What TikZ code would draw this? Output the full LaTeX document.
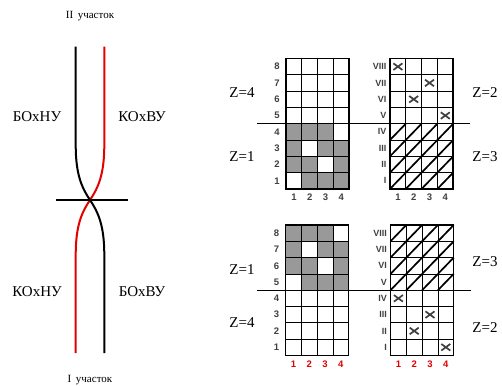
\documentclass[tikz,border=0pt]{standalone}
\usepackage{fontspec}
\setmainfont{Liberation Serif}
\setsansfont{Liberation Sans}
\begin{document}
\begin{tikzpicture}[x=1pt,y=-1pt,
  wire/.style={line width=2pt},
  redwire/.style={line width=2pt,draw=red!90!black},
  divider/.style={line width=1.4pt},
  lbl/.style={font=\fontsize{15}{17}\selectfont,inner sep=0pt},
  sect/.style={font=\fontsize{11}{13}\selectfont,inner sep=0pt},
  zlbl/.style={font=\fontsize{15}{17}\selectfont,inner sep=0pt},
  gridline/.style={line width=0.8pt},
  border/.style={line width=1.5pt},
  diag/.style={line width=1.7pt},
  xline/.style={line width=1.7pt,draw=black!75},
  rownum/.style={font=\sffamily\bfseries\fontsize{9.5}{10}\selectfont,text=black!75,inner sep=0pt},
  rowrom/.style={font=\sffamily\bfseries\fontsize{9}{10}\selectfont,text=black!75,inner sep=0pt,anchor=east},
  colnum/.style={font=\sffamily\bfseries\fontsize{9.5}{10}\selectfont,text=black!75,inner sep=0pt},
  colred/.style={font=\sffamily\bfseries\fontsize{9.5}{10}\selectfont,text=red!90!black,inner sep=0pt},
  graycell/.style={fill=black!40}]
\useasboundingbox (0,0) rectangle (502,385);
\def\cw{15.8}
\def\ch{16.3}
\newcommand{\gcell}[3]{\fill[#3] ({(#1-1)*\cw},{(8-#2)*\ch}) rectangle ({#1*\cw},{(9-#2)*\ch});}
\newcommand{\gdiag}[2]{\draw[diag] ({(#1-1)*\cw},{(9-#2)*\ch}) -- ({#1*\cw},{(8-#2)*\ch});}
\newcommand{\xmk}[2]{\draw[xline] ({(#1-0.5)*\cw-4.5},{(8.5-#2)*\ch-3.3}) -- ++(9,6.6)
   ({(#1-0.5)*\cw-4.5},{(8.5-#2)*\ch+3.3}) -- ++(9,-6.6);}
\newcommand{\glines}{%
  \foreach \i in {1,2,3} \draw[gridline] ({\i*\cw},0) -- ({\i*\cw},{8*\ch});
  \foreach \j in {1,...,7} \draw[gridline] (0,{\j*\ch}) -- ({4*\cw},{\j*\ch});
  \draw[border] (0,0) rectangle ({4*\cw},{8*\ch});}

% ---------- left diagram ----------
\coordinate (bt) at (75.7,46.7);
\coordinate (bu) at (75.7,145);
\coordinate (cx) at (90,200);
\coordinate (bl) at (104.3,255);
\coordinate (bb) at (104.3,353);
\coordinate (rt) at (104.3,46.7);
\coordinate (ru) at (104.3,145);
\coordinate (rl) at (75.7,255);
\coordinate (rb) at (75.7,353);
\draw[redwire] (rt) -- (ru) .. controls (104.3,175) and (98,188) .. (cx) .. controls (82,212) and (75.7,225) .. (rl) -- (rb);
\draw[wire] (bt) -- (bu) .. controls (75.7,175) and (82,188) .. (cx) .. controls (98,212) and (104.3,225) .. (bl) -- (bb);
\coordinate (hl) at (56,200);
\coordinate (hr) at (128.3,200);
\draw[line width=1.4pt] (hl) -- (hr);
\node[sect] (s2) at (90,16) {II\, участок};
\node[sect] (s1) at (90,380) {I\, участок};
\node[lbl] (l1) at (37,117) {БОхНУ};
\node[lbl] (l2) at (142,117) {КОхВУ};
\node[lbl] (l3) at (37,292) {КОхНУ};
\node[lbl] (l4) at (142,292) {БОхВУ};

% ---------- Z labels ----------
\node[zlbl] (z1) at (242,92.5) {Z=4};
\node[zlbl] (z2) at (242,157) {Z=1};
\node[zlbl] (z3) at (242,270) {Z=1};
\node[zlbl] (z4) at (242,323) {Z=4};
\node[zlbl] (z5) at (485,93) {Z=2};
\node[zlbl] (z6) at (485,157) {Z=3};
\node[zlbl] (z7) at (485,262) {Z=3};
\node[zlbl] (z8) at (485,328) {Z=2};

% ---------- top-left grid ----------
\begin{scope}[shift={(286,58.5)}]
  \fill[graycell] (0,{4*\ch}) rectangle ({4*\cw},{8*\ch});
  \gcell{1}{1}{white}\gcell{3}{2}{white}\gcell{2}{3}{white}\gcell{4}{4}{white}
  \glines
  \foreach \r in {1,...,8} \node[rownum] (tlr\r) at (-9,{(8.5-\r)*\ch}) {\r};
  \foreach \c in {1,...,4} \node[colnum] (tlc\c) at ({(\c-0.5)*\cw},{8*\ch+8}) {\c};
\end{scope}

% ---------- top-right grid ----------
\begin{scope}[shift={(390,58.5)}]
  \foreach \r in {1,...,4} \foreach \c in {1,...,4} {\gdiag{\c}{\r}}
  \glines
  \xmk{1}{8}\xmk{3}{7}\xmk{2}{6}\xmk{4}{5}
  \foreach \r/\t in {1/I,2/II,3/III,4/IV,5/V,6/VI,7/VII,8/VIII} \node[rowrom] (trr\r) at (-3.5,{(8.5-\r)*\ch}) {\t};
  \foreach \c in {1,...,4} \node[colnum] (trc\c) at ({(\c-0.5)*\cw},{8*\ch+8.5}) {\c};
\end{scope}

% ---------- bottom-left grid ----------
\begin{scope}[shift={(285.5,225)}]
  \fill[graycell] (0,0) rectangle ({4*\cw},{4*\ch});
  \gcell{1}{5}{white}\gcell{3}{6}{white}\gcell{2}{7}{white}\gcell{4}{8}{white}
  \glines
  \foreach \r in {1,...,8} \node[rownum] (blr\r) at (-9,{(8.5-\r)*\ch}) {\r};
  \foreach \c in {1,...,4} \node[colred] (blc\c) at ({(\c-0.5)*\cw},{8*\ch+9}) {\c};
\end{scope}

% ---------- bottom-right grid ----------
\begin{scope}[shift={(390.5,225)}]
  \foreach \r in {5,...,8} \foreach \c in {1,...,4} {\gdiag{\c}{\r}}
  \glines
  \xmk{1}{4}\xmk{3}{3}\xmk{2}{2}\xmk{4}{1}
  \foreach \r/\t in {1/I,2/II,3/III,4/IV,5/V,6/VI,7/VII,8/VIII} \node[rowrom] (brr\r) at (-3.5,{(8.5-\r)*\ch}) {\t};
  \foreach \c in {1,...,4} \node[colred] (brc\c) at ({(\c-0.5)*\cw},{8*\ch+9}) {\c};
\end{scope}

% ---------- dividers ----------
\coordinate (d1l) at (257,123.7);
\coordinate (d1r) at (470,123.7);
\coordinate (d2l) at (257,290.2);
\coordinate (d2r) at (471,290.2);
\draw[divider] (d1l) -- (d1r);
\draw[divider] (d2l) -- (d2r);
\end{tikzpicture}
\end{document}
